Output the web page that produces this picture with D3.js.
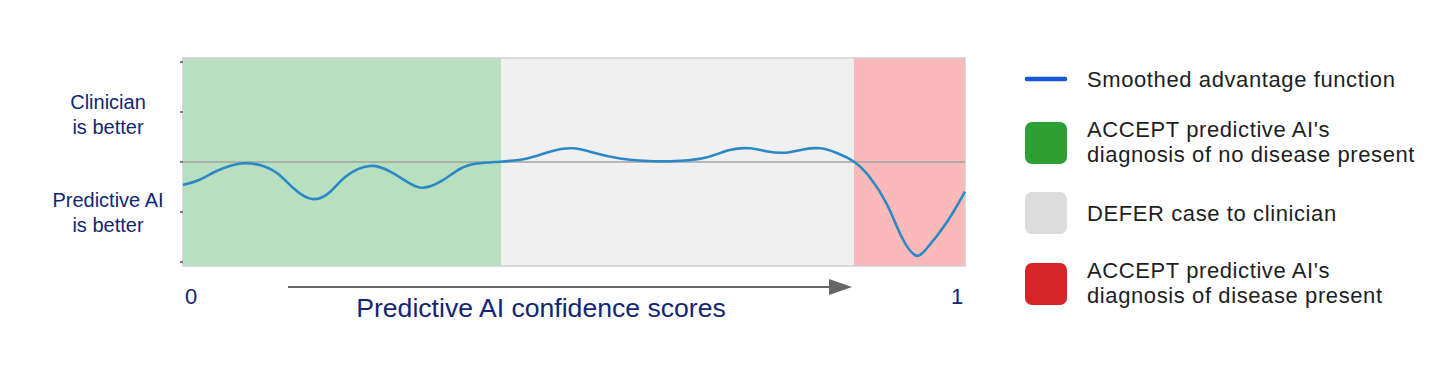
<!DOCTYPE html>
<html lang="en">
<head>
    <meta charset="UTF-8">
    <title>Advantage function</title>
    <script src="https://d3js.org/d3.v7.min.js"></script>
    <style>
        body { margin: 0; background: #ffffff; }
        text { font-family: "Liberation Sans", Arial, sans-serif; }
    </style>
</head>
<body>
<svg id="chart" width="1440" height="371"></svg>
<script>
    // confidence score (0..1) and smoothed advantage (+ = clinician better)
    const scores = [0.000, 0.022, 0.043, 0.064, 0.079, 0.098, 0.120, 0.141, 0.165, 0.188,
        0.209, 0.239, 0.265, 0.290, 0.307, 0.329, 0.354, 0.376, 0.405, 0.440,
        0.469, 0.498, 0.524, 0.559, 0.601, 0.636, 0.670, 0.699, 0.725, 0.746,
        0.770, 0.793, 0.815, 0.836, 0.858, 0.878, 0.900, 0.919, 0.936, 0.951,
        0.977, 1.000];
    const advantage = [-0.23, -0.175, -0.09, -0.03, -0.013, -0.03, -0.11, -0.26, -0.37, -0.30,
        -0.14, -0.04, -0.097, -0.213, -0.257, -0.197, -0.07, -0.015, 0.003, 0.035,
        0.103, 0.137, 0.095, 0.035, 0.008, 0.012, 0.047, 0.12, 0.137, 0.108,
        0.093, 0.125, 0.137, 0.09, 0.003, -0.15, -0.42, -0.75, -0.93, -0.865,
        -0.6, -0.297];

    // decision regions along the score axis
    const regionNames = ["accept-negative", "defer", "accept-positive"];
    const regionStarts = [0, 0.407, 0.858];
    const regionEnds = [0.407, 0.858, 1];
    const regionFills = ["#b8e0c0", "#f0f0f0", "#fcb9b9"];

    const yTicks = [-1, -0.5, 0, 0.5, 1];
    const xTickLabels = ["0", "1"];

    const legendLabels = [
        ["Smoothed advantage function"],
        ["ACCEPT predictive AI's", "diagnosis of no disease present"],
        ["DEFER case to clinician"],
        ["ACCEPT predictive AI's", "diagnosis of disease present"]
    ];
    const legendColors = ["#1558d6", "#2ea033", "#dcdcdc", "#d62528"];

    const navy = "#122673";
    const svg = d3.select("#chart");

    const x = d3.scaleLinear().domain([0, 1]).range([183, 965]);
    const y = d3.scaleLinear().domain([-1.04, 1.04]).range([266, 58]);

    // coloured bands
    svg.selectAll(".band")
        .data(regionNames)
        .enter()
        .append("rect")
        .attr("class", "band")
        .attr("x", (d, i) => x(regionStarts[i]))
        .attr("y", y(1.04))
        .attr("width", (d, i) => x(regionEnds[i]) - x(regionStarts[i]))
        .attr("height", y(-1.04) - y(1.04))
        .attr("fill", (d, i) => regionFills[i]);

    // frame
    svg.append("rect")
        .attr("x", x(0))
        .attr("y", y(1.04))
        .attr("width", x(1) - x(0))
        .attr("height", y(-1.04) - y(1.04))
        .attr("fill", "none")
        .attr("stroke", "#cfcfcf")
        .attr("stroke-width", 1.5);

    // y ticks (no labels)
    svg.selectAll(".ytick")
        .data(yTicks)
        .enter()
        .append("line")
        .attr("x1", x(0) - 3)
        .attr("x2", x(0))
        .attr("y1", d => y(d))
        .attr("y2", d => y(d))
        .attr("stroke", "#555")
        .attr("stroke-width", 1.5);

    // zero line
    svg.append("line")
        .attr("x1", x(0))
        .attr("x2", x(1))
        .attr("y1", y(0))
        .attr("y2", y(0))
        .attr("stroke", "#a3a3a3")
        .attr("stroke-width", 1.5);

    // curve
    const line = d3.line()
        .x((d, i) => x(scores[i]))
        .y(d => y(d))
        .curve(d3.curveNatural);

    svg.append("path")
        .datum(advantage)
        .attr("d", line)
        .attr("fill", "none")
        .attr("stroke", "#2a88c6")
        .attr("stroke-width", 2.6);

    // side labels
    const sideLabels = [["Clinician", "is better"], ["Predictive AI", "is better"]];
    const sideY = [109, 207];
    sideLabels.forEach((lines, k) => {
        svg.append("text")
            .attr("x", 108)
            .attr("y", sideY[k])
            .attr("text-anchor", "middle")
            .attr("fill", navy)
            .style("font-size", "20px")
            .selectAll("tspan")
            .data(lines)
            .enter()
            .append("tspan")
            .attr("x", 108)
            .attr("dy", (d, i) => i === 0 ? 0 : 25)
            .text(d => d);
    });

    // 0 / 1 labels
    svg.selectAll(".xlab")
        .data(xTickLabels)
        .enter()
        .append("text")
        .attr("x", (d, i) => i === 0 ? x(0) + 8 : x(1) - 8)
        .attr("y", 304)
        .attr("text-anchor", "middle")
        .attr("fill", navy)
        .style("font-size", "22px")
        .text(d => d);

    // arrow
    svg.append("line")
        .attr("x1", 288)
        .attr("x2", 832)
        .attr("y1", 287)
        .attr("y2", 287)
        .attr("stroke", "#666")
        .attr("stroke-width", 2);
    svg.append("path")
        .attr("d", "M829,279 L852,287 L829,295 Z")
        .attr("fill", "#666");

    svg.append("text")
        .attr("x", 541)
        .attr("y", 317)
        .attr("text-anchor", "middle")
        .attr("fill", navy)
        .style("font-size", "26.6px")
        .text("Predictive AI confidence scores");

    // legend
    const legendY = [79, 143, 213, 284];
    const legend = svg.selectAll(".legend")
        .data(legendLabels)
        .enter()
        .append("g")
        .attr("class", "legend")
        .attr("transform", (d, i) => `translate(1025,${legendY[i]})`);

    legend.each(function(d, i) {
        const g = d3.select(this);
        if (i === 0) {
            g.append("line")
                .attr("x1", 2).attr("x2", 40)
                .attr("y1", 0).attr("y2", 0)
                .attr("stroke", legendColors[i])
                .attr("stroke-width", 4.5)
                .attr("stroke-linecap", "round");
        } else {
            g.append("rect")
                .attr("x", 0).attr("y", -21)
                .attr("width", 42).attr("height", 42)
                .attr("rx", 7)
                .attr("fill", legendColors[i]);
        }
        const t = g.append("text")
            .attr("x", 62)
            .attr("y", d.length === 1 ? 8 : -6.5)
            .attr("fill", "#1e1e1e")
            .style("font-size", "22px")
            .style("letter-spacing", "0.6px");
        t.selectAll("tspan")
            .data(d)
            .enter()
            .append("tspan")
            .attr("x", 62)
            .attr("dy", (s, j) => j === 0 ? 0 : 25)
            .text(s => s);
    });
</script>
</body>
</html>
